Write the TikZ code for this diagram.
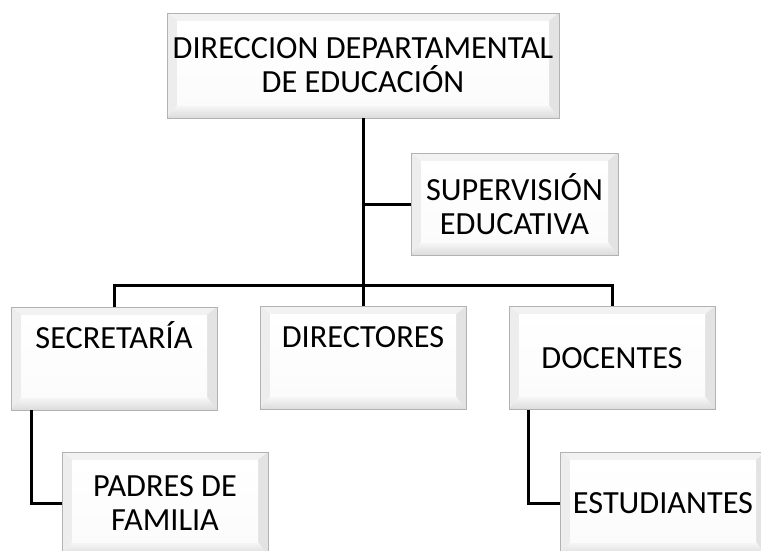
\documentclass[tikz,border=0pt]{standalone}
\usepackage{fontspec}
\setmainfont{Carlito}
\newfontfamily\boxfontfam{Carlito}
\begin{document}
\begin{tikzpicture}[x=1pt,y=-1pt,
  box/.style={draw=gray!60, line width=0.8pt, fill=gray!22,
    minimum width=206pt, minimum height=103pt, inner sep=0pt,
    align=center, font=\boxfontfam\fontsize{32.3}{34}\selectfont,
    path picture={
      \coordinate (ppnw) at (path picture bounding box.north west);
      \coordinate (ppse) at (path picture bounding box.south east);
      \coordinate (ppne) at (path picture bounding box.north east);
      \coordinate (ppsw) at (path picture bounding box.south west);
      \coordinate (inw) at ([shift={(10pt,-8pt)}]ppnw);
      \coordinate (ine) at ([shift={(-10pt,-8pt)}]ppne);
      \coordinate (ise) at ([shift={(-10pt,13pt)}]ppse);
      \coordinate (isw) at ([shift={(10pt,13pt)}]ppsw);
      \fill[gray!10] (ppnw) -- (ppne) -- (ine) -- (inw) -- cycle;
      \fill[gray!14] (ppnw) -- (inw) -- (isw) -- (ppsw) -- cycle;
      \fill[gray!22] (ppne) -- (ine) -- (ise) -- (ppse) -- cycle;
      \shade[top color=gray!6, bottom color=gray!28] (ppsw) -- (isw) -- (ise) -- (ppse) -- cycle;
      \shade[top color=white, bottom color=gray!3] (inw) rectangle (ise);
    }},
  upper/.style={text height=21pt, text depth=42pt},
  conn/.style={line width=3pt, black}
]
\path[use as bounding box] (0,0) rectangle (761,550);
\clip (0,0) rectangle (761,550);

\node[box, minimum width=392pt, minimum height=105pt] (top) at (363,65.5) {DIRECCION DEPARTAMENTAL\\DE EDUCACIÓN};
\node[box, minimum width=207pt, minimum height=102pt] (sup) at (514.5,204) {SUPERVISIÓN\\EDUCATIVA};
\node[box, upper] (sec) at (114,358.5) {SECRETARÍA};
\node[box, upper] (dir) at (363,358) {DIRECTORES};
\node[box] (doc) at (612,358) {DOCENTES};
\node[box] (pad) at (165,503.5) {PADRES DE\\FAMILIA};
\node[box] (est) at (663,503.5) {ESTUDIANTES};

\coordinate (bar) at (363,285);
\draw[conn] (top.south) -- (dir.north);
\draw[conn] (sup.west) -- (sup.west -| top.south);
\draw[conn] (sec.north) |- (bar) -| (doc.north);
\draw[conn] ([xshift=21pt]sec.south west) |- (pad.west);
\draw[conn] ([xshift=20pt]doc.south west) |- (est.west);
\end{tikzpicture}
\end{document}
